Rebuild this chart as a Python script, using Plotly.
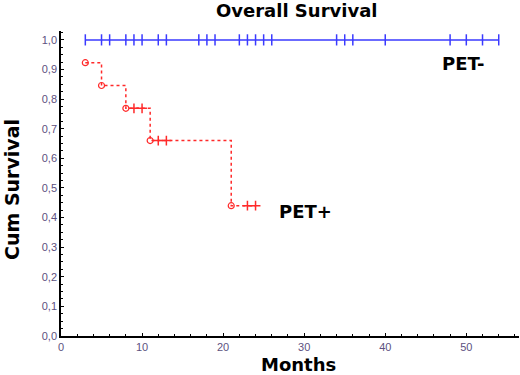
import plotly.graph_objects as go

# ---- data ----
pet_neg_censor_months = [3, 5, 6, 8, 9, 10, 12, 13, 17, 18, 19, 22, 23, 24, 25, 26,
                         34, 35, 36, 40, 48, 50, 52, 54]
pet_neg_survival = 1.0

pet_pos_event_months = [3, 5, 8, 11, 21]
pet_pos_event_survival = [0.923, 0.846, 0.769, 0.66, 0.44]
pet_pos_censor_months = [9, 10, 12, 13, 23, 24]

y_tick_vals = [0.0, 0.1, 0.2, 0.3, 0.4, 0.5, 0.6, 0.7, 0.8, 0.9, 1.0]
y_tick_text = ["0,0", "0,1", "0,2", "0,3", "0,4", "0,5", "0,6", "0,7", "0,8", "0,9", "1,0"]
x_tick_vals = [0, 10, 20, 30, 40, 50]


def surv_at(t):
    s = pet_pos_event_survival[0]
    for et, sv in zip(pet_pos_event_months, pet_pos_event_survival):
        if et <= t:
            s = sv
    return s


BLUE = "#3a3aff"
RED = "#ff2a2a"
BOLD = "DejaVu Sans"

fig = go.Figure()

# PET- line
neg_x = [min(pet_neg_censor_months), max(pet_neg_censor_months)]
fig.add_trace(go.Scatter(x=neg_x, y=[pet_neg_survival] * 2, mode="lines",
                         line=dict(color=BLUE, width=1.5), hoverinfo="skip"))
fig.add_trace(go.Scatter(x=pet_neg_censor_months,
                         y=[pet_neg_survival] * len(pet_neg_censor_months),
                         mode="markers",
                         marker=dict(symbol="line-ns-open", size=8, color=BLUE,
                                     line=dict(color=BLUE, width=1.5))))

# PET+ step line
end_t = max(pet_pos_censor_months)
pos_x = pet_pos_event_months + [end_t]
pos_y = pet_pos_event_survival + [surv_at(end_t)]
fig.add_trace(go.Scatter(x=pos_x, y=pos_y, mode="lines", line_shape="hv",
                         line=dict(color=RED, width=1.5, dash="dot")))
fig.add_trace(go.Scatter(x=pet_pos_event_months, y=pet_pos_event_survival,
                         mode="markers",
                         marker=dict(symbol="circle-open", size=6, color=RED,
                                     line=dict(color=RED, width=1.2))))
fig.add_trace(go.Scatter(x=pet_pos_censor_months,
                         y=[surv_at(t) for t in pet_pos_censor_months],
                         mode="markers",
                         marker=dict(symbol="cross-thin-open", size=7, color=RED,
                                     line=dict(color=RED, width=1.5))))

fig.add_annotation(x=49.6, y=0.92, text="<b>PET-</b>", showarrow=False,
                   font=dict(family=BOLD, size=18, color="black"))
fig.add_annotation(x=30.1, y=0.419, text="<b>PET+</b>", showarrow=False,
                   font=dict(family=BOLD, size=18, color="black"))

# titles placed as annotations (paper coords)
fig.add_annotation(xref="paper", yref="paper", x=(296 - 61) / 458, y=(336 - 11) / 305,
                   text="<b>Overall Survival</b>", showarrow=False,
                   xanchor="center", yanchor="middle",
                   font=dict(family=BOLD, size=18, color="black"))
fig.add_annotation(xref="paper", yref="paper", x=(298 - 61) / 458, y=-(364 - 336) / 305,
                   text="<b>Months</b>", showarrow=False,
                   xanchor="center", yanchor="middle",
                   font=dict(family=BOLD, size=18, color="black"))
fig.add_annotation(xref="paper", yref="paper", x=-(61 - 12) / 458, y=(336 - 190) / 305,
                   text="<b>Cum Survival</b>", showarrow=False, textangle=-90,
                   xanchor="center", yanchor="middle",
                   font=dict(family=BOLD, size=19, color="black"))

fig.update_layout(
    width=520, height=375,
    margin=dict(l=61, r=1, t=31, b=39),
    paper_bgcolor="white", plot_bgcolor="white",
    showlegend=False,
    font=dict(family="Arial, Liberation Sans"),
)

fig.update_xaxes(range=[0, 56.5], tickvals=x_tick_vals, showgrid=False, zeroline=False,
                 showline=True, linecolor="black", linewidth=1.5,
                 ticks="inside", ticklen=3, tickcolor="black",
                 minor=dict(dtick=2, ticks="inside", ticklen=2, tickcolor="black"),
                 tickfont=dict(size=11, color="#5d5180"))
fig.update_yaxes(range=[0, 1.03], tickvals=y_tick_vals, ticktext=y_tick_text,
                 showgrid=False, zeroline=False,
                 showline=True, linecolor="black", linewidth=1.5,
                 ticks="inside", ticklen=3, tickcolor="black",
                 minor=dict(dtick=0.025, ticks="inside", ticklen=2, tickcolor="black"),
                 tickfont=dict(size=11, color="#5d5180"))

fig.write_html("out.html", config={"displayModeBar": False},
               post_script="document.body.style.margin='0';")
